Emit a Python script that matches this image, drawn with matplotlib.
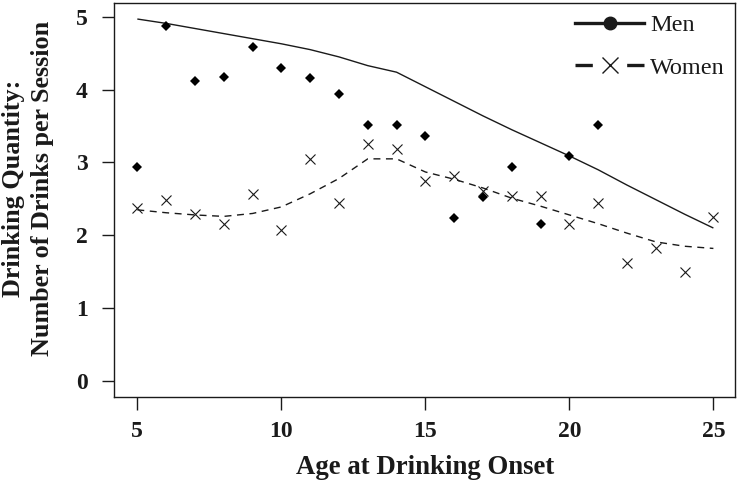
import matplotlib
matplotlib.use("Agg")
import matplotlib.pyplot as plt
from matplotlib.lines import Line2D

# Data
ages = [5, 6, 7, 8, 9, 10, 11, 12, 13, 14, 15, 16, 17, 18, 19, 20, 21, 22, 23, 24, 25]

men_x = [5, 6, 7, 8, 9, 10, 11, 12, 13, 14, 15, 16, 17, 18, 19, 20, 21]
men_y = [2.94, 4.88, 4.12, 4.18, 4.58, 4.30, 4.16, 3.94, 3.51, 3.51, 3.37, 2.24,
         2.52, 2.94, 2.16, 3.09, 3.51]

women_x = [5, 6, 7, 8, 9, 10, 11, 12, 13, 14, 15, 16, 17, 18, 19, 20, 21, 22, 23, 24, 25]
women_y = [2.38, 2.49, 2.29, 2.16, 2.57, 2.07, 3.05, 2.44, 3.26, 3.18, 2.75, 2.82,
           2.61, 2.54, 2.54, 2.16, 2.45, 1.62, 1.82, 1.49, 2.25]

men_fit = [4.97, 4.91, 4.84, 4.77, 4.70, 4.63, 4.55, 4.45, 4.33, 4.24, 4.04, 3.84,
           3.64, 3.45, 3.27, 3.09, 2.90, 2.69, 2.49, 2.29, 2.10]
women_fit = [2.35, 2.31, 2.28, 2.26, 2.30, 2.39, 2.57, 2.78, 3.05, 3.05, 2.87, 2.77,
             2.65, 2.51, 2.40, 2.28, 2.16, 2.03, 1.91, 1.85, 1.82]

x_ticks = [5, 10, 15, 20, 25]
y_ticks = [0, 1, 2, 3, 4, 5]

plt.rcParams['font.family'] = ['Liberation Serif', 'DejaVu Serif']

ink = '#1a1a1a'
fig = plt.figure(figsize=(7.39, 4.87), dpi=100)
ax = fig.add_axes([114/739, 1 - 397/487, (735-114)/739, (397-3)/487])

ax.plot(ages, men_fit, color=ink, lw=1.0, solid_capstyle='butt')
ax.plot(ages, women_fit, color=ink, lw=1.0, linestyle=(0, (5, 4)))
ax.plot(men_x, men_y, linestyle='none', marker='D', markersize=4.6,
        color='black', markeredgewidth=0)
ax.plot(women_x, women_y, linestyle='none', marker='x', markersize=7,
        color=ink, markeredgewidth=0.8)

ax.set_xlim(4.19, 25.75)
ax.set_ylim(-0.22, 5.19)
ax.set_xticks(x_ticks)
ax.set_yticks(y_ticks)
ax.tick_params(direction='out', length=9, width=1.0, colors=ink,
               labelsize=17)
ax.tick_params(axis='y', pad=10)
ax.tick_params(axis='x', pad=8)
for lab in ax.get_xticklabels() + ax.get_yticklabels():
    lab.set_fontweight('bold')
for sp in ax.spines.values():
    sp.set_linewidth(1.0)
    sp.set_color(ink)

fig.text(425/739, 1 - 468/487, 'Age at Drinking Onset', ha='center', va='center',
         fontsize=19.3, fontweight='bold', color=ink)
fig.text(28/739, 1 - 188/487, 'Drinking Quantity:\nNumber of Drinks per Session',
         ha='center', va='center', rotation=90, fontsize=18.8, fontweight='bold',
         color=ink, multialignment='center', linespacing=1.3)

h_men = Line2D([], [], color=ink, lw=2.4, marker='o', markersize=9,
               markerfacecolor=ink, markeredgecolor=ink)
h_women = Line2D([], [], color=ink, lw=2.4, linestyle=(0, (5.2, 10.3)),
                 marker='x', markersize=11, markeredgewidth=1.0,
                 markeredgecolor=ink)
leg = fig.legend([h_men, h_women], ['Men', 'Women'], loc='upper left',
                 bbox_to_anchor=(575/739, 1 - 14/487), frameon=False,
                 borderpad=0, borderaxespad=0, handlelength=2.84,
                 handletextpad=0.25, labelspacing=0.85, fontsize=17.5)
for t in leg.get_texts():
    t.set_color(ink)

fig.savefig('out.png', dpi=100)
